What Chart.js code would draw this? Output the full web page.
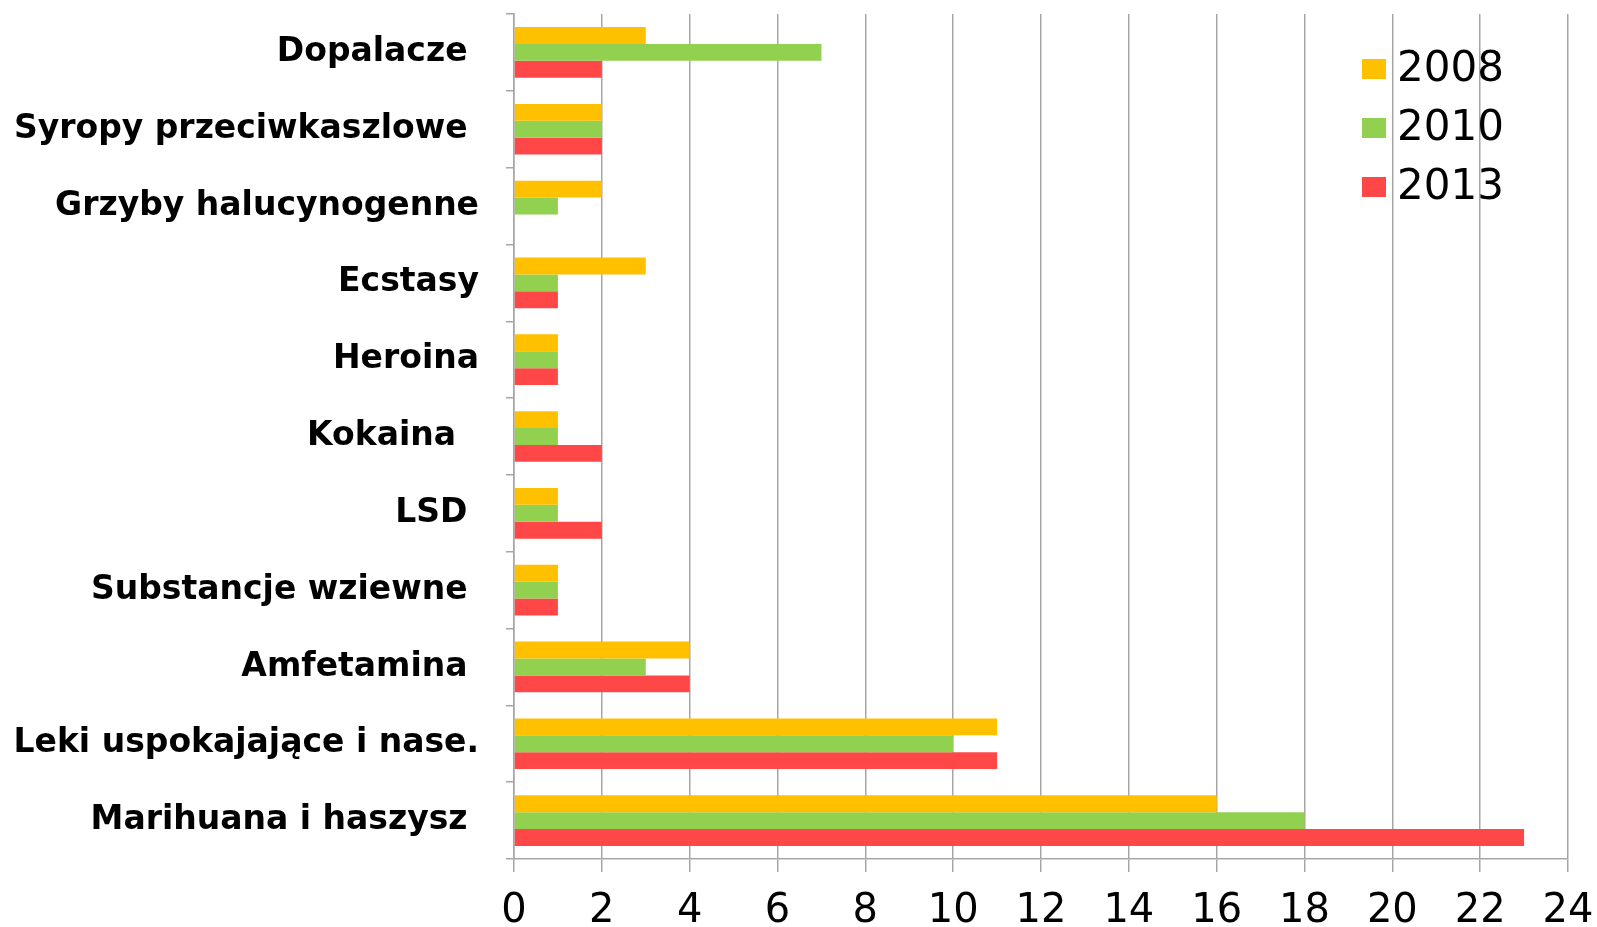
<!DOCTYPE html>
<html>
<head>
<meta charset="utf-8">
<script src="https://cdn.jsdelivr.net/npm/chart.js@4/dist/chart.umd.min.js"></script>
<style>
  html, body { margin: 0; padding: 0; background: #fff; }
  #wrap { width: 1597px; height: 927px; }
</style>
</head>
<body>
<div id="wrap"><canvas id="chart" width="1597" height="927"></canvas></div>
<script>
// dane z wykresu
const categories = [
  "Dopalacze ",
  "Syropy przeciwkaszlowe ",
  "Grzyby halucynogenne",
  "Ecstasy",
  "Heroina",
  "Kokaina  ",
  "LSD ",
  "Substancje wziewne ",
  "Amfetamina ",
  "Leki uspokajające i nase.",
  "Marihuana i haszysz "
];
const years = ["2008", "2010", "2013"];
const values2008 = [3, 2, 2, 3, 1, 1, 1, 1, 4, 11, 16];
const values2010 = [7, 2, 1, 1, 1, 1, 1, 1, 3, 10, 18];
const values2013 = [2, 2, 0, 1, 1, 2, 2, 1, 4, 11, 23];
const xTicks = [0, 2, 4, 6, 8, 10, 12, 14, 16, 18, 20, 22, 24];
const colors = ["#FFC000", "#92D050", "#FF4747"];

const gridGray = "#a6a6a6";

// legenda w prawym górnym rogu obszaru wykresu
const cornerLegend = {
  id: "cornerLegend",
  afterDraw(chart) {
    const ctx = chart.ctx;
    const area = chart.chartArea;
    ctx.save();
    ctx.font = '42px "DejaVu Sans"';
    ctx.textBaseline = "middle";
    ctx.textAlign = "left";
    chart.data.datasets.forEach((ds, i) => {
      const y = area.top + 55 + i * 59;
      ctx.fillStyle = ds.backgroundColor;
      ctx.fillRect(area.right - 206, y - 10, 24, 20);
      ctx.fillStyle = "#000";
      ctx.fillText(ds.label, area.right - 171, y + 1);
    });
    ctx.restore();
  }
};

document.addEventListener("DOMContentLoaded", () => {
  const ctx = document.getElementById("chart").getContext("2d");
  const series = [values2008, values2010, values2013];

  const data = {
    labels: categories,
    datasets: years.map((y, i) => ({
      label: y,
      data: series[i],
      backgroundColor: colors[i],
      borderWidth: 0,
      categoryPercentage: 0.66,
      barPercentage: 1.0
    }))
  };

  new Chart(ctx, {
    type: "bar",
    data: data,
    plugins: [cornerLegend],
    options: {
      indexAxis: "y",
      responsive: false,
      animation: false,
      layout: { padding: { top: 14, right: 29, left: 0, bottom: 0 } },
      plugins: {
        legend: { display: false },
        tooltip: { enabled: false }
      },
      scales: {
        y: {
          grid: {
            offset: true,
            drawOnChartArea: false,
            drawTicks: true,
            tickLength: 8,
            color: gridGray,
            lineWidth: 1.5
          },
          border: { color: gridGray, width: 1.5 },
          ticks: {
            color: "#000",
            padding: 27,
            font: { family: "DejaVu Sans", weight: "bold", size: 33 }
          },
          afterFit: (s) => {
            s.width = 514;
            s.paddingTop = 0;
            s.paddingBottom = 0;
          }
        },
        x: {
          min: xTicks[0],
          max: xTicks[xTicks.length - 1],
          afterBuildTicks: (s) => { s.ticks = xTicks.map(v => ({ value: v })); },
          grid: {
            color: gridGray,
            lineWidth: 1.5,
            tickLength: 13
          },
          border: { color: gridGray, width: 1.5 },
          ticks: {
            color: "#000",
            padding: 16,
            font: { family: "DejaVu Sans", size: 40 }
          },
          afterFit: (s) => {
            s.height = 68;
            s.paddingLeft = 0;
            s.paddingRight = 0;
          }
        }
      }
    }
  });
});
</script>
</body>
</html>
